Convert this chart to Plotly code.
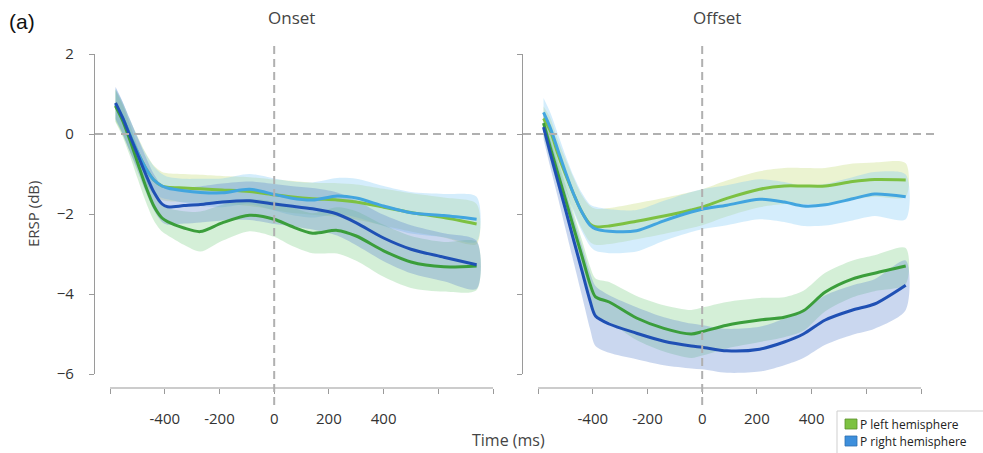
import numpy as np
import plotly.graph_objects as go

# ---------------- data ----------------
onset_t = [-580, -555, -530, -500, -470, -440, -410, -390, -330, -270, -190, -90, 0, 60, 140, 230, 300, 400, 500, 620, 740]
onset_lg = [0.72, 0.40, 0.00, -0.45, -0.85, -1.15, -1.30, -1.33, -1.35, -1.37, -1.40, -1.44, -1.52, -1.57, -1.62, -1.65, -1.70, -1.83, -1.96, -2.09, -2.25]
onset_lb = [0.75, 0.42, 0.02, -0.45, -0.85, -1.15, -1.30, -1.35, -1.42, -1.46, -1.47, -1.38, -1.51, -1.60, -1.65, -1.55, -1.60, -1.80, -1.97, -2.04, -2.13]
onset_dg = [0.70, 0.35, -0.10, -0.70, -1.30, -1.80, -2.10, -2.19, -2.35, -2.44, -2.22, -2.03, -2.13, -2.30, -2.48, -2.41, -2.55, -2.92, -3.20, -3.32, -3.30]
onset_db = [0.78, 0.42, 0.00, -0.50, -1.00, -1.45, -1.75, -1.82, -1.79, -1.76, -1.70, -1.67, -1.75, -1.80, -1.87, -2.00, -2.22, -2.60, -2.88, -3.08, -3.27]
onset_lg_err = [0.40, 0.40, 0.40, 0.40, 0.38, 0.36, 0.35, 0.35, 0.35, 0.35, 0.35, 0.36, 0.38, 0.40, 0.40, 0.42, 0.44, 0.46, 0.48, 0.50, 0.50]
onset_lb_err = [0.40, 0.40, 0.40, 0.38, 0.36, 0.34, 0.30, 0.28, 0.30, 0.34, 0.36, 0.38, 0.40, 0.42, 0.44, 0.45, 0.48, 0.50, 0.52, 0.54, 0.56]
onset_dg_err = [0.40, 0.40, 0.40, 0.40, 0.38, 0.36, 0.34, 0.34, 0.42, 0.50, 0.45, 0.40, 0.44, 0.48, 0.50, 0.58, 0.62, 0.65, 0.65, 0.62, 0.60]
onset_db_err = [0.40, 0.40, 0.40, 0.42, 0.44, 0.45, 0.45, 0.45, 0.45, 0.45, 0.46, 0.48, 0.50, 0.50, 0.52, 0.54, 0.56, 0.58, 0.60, 0.60, 0.60]

offset_t = [-580, -555, -530, -500, -470, -440, -410, -390, -340, -240, -140, -40, 0, 90, 210, 300, 370, 450, 550, 630, 744]
offset_lg = [0.39, 0.08, -0.45, -1.00, -1.50, -1.95, -2.25, -2.32, -2.30, -2.18, -2.05, -1.90, -1.83, -1.61, -1.38, -1.30, -1.30, -1.30, -1.19, -1.14, -1.15]
offset_lb = [0.54, 0.15, -0.35, -0.95, -1.50, -1.95, -2.28, -2.37, -2.43, -2.42, -2.17, -1.95, -1.88, -1.78, -1.63, -1.70, -1.80, -1.77, -1.62, -1.50, -1.57]
offset_dg = [0.27, -0.34, -0.93, -1.63, -2.34, -3.04, -3.75, -4.07, -4.20, -4.60, -4.86, -5.00, -4.94, -4.78, -4.65, -4.58, -4.42, -3.95, -3.62, -3.48, -3.30]
offset_db = [0.17, -0.49, -1.12, -1.88, -2.65, -3.41, -4.17, -4.55, -4.75, -4.98, -5.18, -5.30, -5.33, -5.42, -5.38, -5.20, -5.00, -4.65, -4.40, -4.25, -3.78]
offset_lg_err = [0.30, 0.32, 0.35, 0.38, 0.40, 0.42, 0.45, 0.45, 0.45, 0.45, 0.45, 0.45, 0.45, 0.45, 0.45, 0.45, 0.45, 0.45, 0.45, 0.43, 0.42]
offset_lb_err = [0.36, 0.38, 0.40, 0.42, 0.45, 0.48, 0.52, 0.55, 0.55, 0.52, 0.50, 0.50, 0.50, 0.50, 0.50, 0.50, 0.50, 0.52, 0.54, 0.55, 0.56]
offset_dg_err = [0.30, 0.32, 0.34, 0.36, 0.38, 0.40, 0.44, 0.46, 0.50, 0.55, 0.58, 0.60, 0.60, 0.58, 0.55, 0.50, 0.50, 0.48, 0.46, 0.45, 0.45]
offset_db_err = [0.30, 0.35, 0.40, 0.48, 0.55, 0.62, 0.70, 0.75, 0.72, 0.65, 0.60, 0.56, 0.55, 0.55, 0.56, 0.58, 0.60, 0.62, 0.62, 0.62, 0.62]

tick_vals = [-600, -400, -200, 0, 200, 400, 600, 800]
tick_text = ["", "-400", "-200", "0", "200", "400", "", ""]
y_tick_vals = [2, 0, -2, -4, -6]
legend_names = ["P left hemisphere", "P right hemisphere"]
panel_titles = ["Onset", "Offset"]

# ---------------- styling ----------------
LINE_COL = {"lg": "#7dc142", "lb": "#42a5df", "dg": "#3b9e3b", "db": "#1f50b4"}
BAND_COL = {"lg": "rgba(195,220,120,0.34)", "lb": "rgba(120,200,245,0.32)",
            "dg": "rgba(120,205,130,0.32)", "db": "rgba(90,130,205,0.32)"}
FONT = "Open Sans"
AX_COL = "#9a9a9a"
DASH_COL = "#b0b0b0"

W, H = 983, 453
def px(x):
    return x / W
def py(y):
    return 1 - y / H

panels = [
    dict(t=onset_t, xa="x", ya="y",
         series=[("lg", onset_lg, onset_lg_err), ("lb", onset_lb, onset_lb_err),
                 ("dg", onset_dg, onset_dg_err), ("db", onset_db, onset_db_err)]),
    dict(t=offset_t, xa="x2", ya="y2",
         series=[("lg", offset_lg, offset_lg_err), ("lb", offset_lb, offset_lb_err),
                 ("dg", offset_dg, offset_dg_err), ("db", offset_db, offset_db_err)]),
]

fig = go.Figure()
for p in panels:
    t = np.array(p["t"], dtype=float)
    for key, vals, err in p["series"]:
        v = np.array(vals); e = np.array(err)
        fig.add_trace(go.Scatter(
            x=np.concatenate([t, t[::-1]]), y=np.concatenate([v + e, (v - e)[::-1]]),
            fill="toself", fillcolor=BAND_COL[key], line=dict(width=0, shape="spline", smoothing=0.8),
            mode="lines", hoverinfo="skip", showlegend=False, xaxis=p["xa"], yaxis=p["ya"]))
    for key, vals, err in p["series"]:
        fig.add_trace(go.Scatter(
            x=t, y=vals, mode="lines", line=dict(color=LINE_COL[key], width=3, shape="spline", smoothing=0.8),
            showlegend=False, xaxis=p["xa"], yaxis=p["ya"]))

x_range = [-655, 862]
x_pos = py(388)
y_dom = [py(374), py(54)]
common_x = dict(range=x_range, showline=False, showgrid=False, zeroline=False, ticks="outside",
                ticklen=5, tickcolor=AX_COL, tickvals=tick_vals, ticktext=tick_text,
                tickfont=dict(family=FONT, size=15, color="#333"), anchor="free", position=x_pos,
                ticklabelstandoff=12, fixedrange=True, automargin=False)
common_y = dict(range=[-6, 2], domain=y_dom, showline=True, linecolor=AX_COL, linewidth=1.2,
                showgrid=False, zeroline=False, ticks="outside", ticklen=5, tickcolor=AX_COL,
                tickvals=y_tick_vals, fixedrange=True, automargin=False)

fig.update_layout(
    width=W, height=H, margin=dict(l=0, r=0, t=0, b=0),
    paper_bgcolor="white", plot_bgcolor="rgba(0,0,0,0)",
    xaxis=dict(domain=[px(95), px(510)], **common_x),
    xaxis2=dict(domain=[px(523), px(938)], **common_x),
    yaxis=dict(anchor="x", tickfont=dict(family=FONT, size=15, color="#333"), ticklabelstandoff=12, **common_y),
    yaxis2=dict(anchor="x2", showticklabels=False, **common_y),
    showlegend=False,
)

shapes = []
for xa, x0p, x1p in [("x", 95, 510), ("x2", 523, 937)]:
    shapes.append(dict(type="line", xref=xa, yref="paper", x0=-600, x1=800, y0=x_pos, y1=x_pos,
                       line=dict(color=AX_COL, width=1.2)))
    shapes.append(dict(type="line", xref="paper", yref="y" if xa == "x" else "y2", x0=px(x0p), x1=px(x1p),
                       y0=0, y1=0, line=dict(color=DASH_COL, width=2, dash="8px,5px")))
    shapes.append(dict(type="line", xref=xa, yref="paper", x0=0, x1=0, y0=py(405), y1=py(45),
                       line=dict(color=DASH_COL, width=2, dash="8px,5px")))

# legend (box, colour squares, labels)
shapes.append(dict(type="rect", xref="paper", yref="paper", x0=px(837), x1=px(995), y0=py(470), y1=py(411),
                   line=dict(color="#cfcfcf", width=1), fillcolor="white", layer="above"))
leg_cols = [("#7dc242", "#5a8f2c"), ("#3d8fdc", "#2f6fae")]
leg_y = [424, 441]
for (col, edge), yc in zip(leg_cols, leg_y):
    shapes.append(dict(type="rect", xref="paper", yref="paper", x0=px(845), x1=px(857),
                       y0=py(yc + 5), y1=py(yc - 5), line=dict(color=edge, width=0.8), fillcolor=col, layer="above"))
fig.update_layout(shapes=shapes)

P = dict(xref="paper", yref="paper", showarrow=False)
ann = [
    dict(text="(a)", x=px(7), y=py(21), xanchor="left", yanchor="middle",
         font=dict(family="Liberation Sans", size=21, color="#111"), **P),
    dict(text=panel_titles[0], x=px(291), y=py(18), xanchor="center", yanchor="middle",
         font=dict(family=FONT, size=17, color="#444"), **P),
    dict(text=panel_titles[1], x=px(717), y=py(18), xanchor="center", yanchor="middle",
         font=dict(family=FONT, size=17, color="#444"), **P),
    dict(text="Time (ms)", x=px(508), y=py(440), xanchor="center", yanchor="middle",
         font=dict(family=FONT, size=16, color="#444"), **P),
    dict(text="ERSP (dB)", x=px(33), y=py(214), xanchor="center", yanchor="middle",
         textangle=-90, font=dict(family=FONT, size=15, color="#444"), **P),
]
for name, yc in zip(legend_names, leg_y):
    ann.append(dict(text=name, x=px(858), y=py(yc), xanchor="left", yanchor="middle",
                    font=dict(family=FONT, size=12, color="#222"), **P))
fig.update_layout(annotations=ann)

fig.write_html("out.html", config={"displayModeBar": False},
               post_script="document.body.style.margin='0';document.body.style.overflow='hidden';")
